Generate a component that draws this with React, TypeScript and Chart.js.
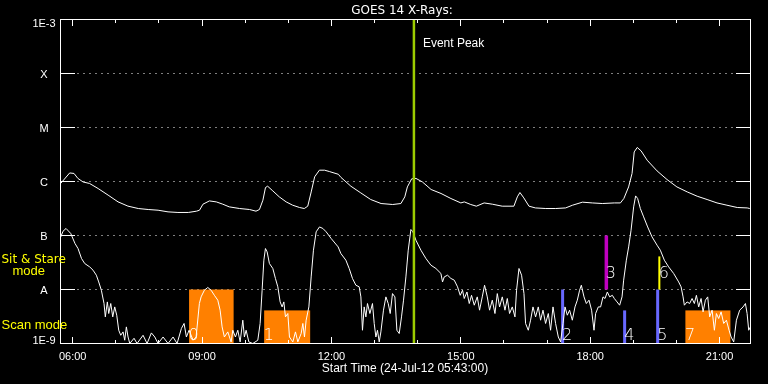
import React, { useEffect, useRef } from 'react';
import { Chart, registerables } from 'chart.js';

Chart.register(...registerables);

// ---- axis ranges / labels ----
const startHour = 5 + 43 / 60; // 05:43
const endHour = startHour + 16; // 21:43
const chartTitle = 'GOES 14 X-Rays:';
const xAxisTitle = 'Start Time (24-Jul-12 05:43:00)';
const xTickHours = [6, 7, 8, 9, 10, 11, 12, 13, 14, 15, 16, 17, 18, 19, 20, 21];
const xMajorHours = [6, 9, 12, 15, 18, 21];
const xMajorLabels = ['06:00', '09:00', '12:00', '15:00', '18:00', '21:00'];
const yTickValues = [1e-9, 1e-8, 1e-7, 1e-6, 1e-5, 1e-4, 1e-3];
const yTickLabels = ['1E-9', 'A', 'B', 'C', 'M', 'X', '1E-3'];

// ---- long channel (upper curve), hours / W m^-2 ----
const longTimes = [
  5.72, 5.93, 6.03, 6.12, 6.24, 6.39, 6.59, 6.82, 7.05, 7.28, 7.52, 7.75, 7.98, 8.21, 8.44, 8.68,
  8.87, 8.94, 9.02, 9.17, 9.33, 9.48, 9.63, 9.87, 10.10, 10.25, 10.33, 10.41, 10.47, 10.52, 10.64,
  10.79, 10.95, 11.10, 11.26, 11.37, 11.45, 11.53, 11.61, 11.72, 11.84, 11.95, 12.16, 12.22, 12.45,
  12.68, 12.91, 13.15, 13.42, 13.61, 13.70, 13.76, 13.86, 13.96, 14.11, 14.31, 14.54, 14.77, 15.00,
  15.08, 15.23, 15.36, 15.54, 15.73, 15.96, 16.23, 16.31, 16.37, 16.46, 16.58, 16.73, 16.97, 17.20,
  17.43, 17.59, 17.82, 18.05, 18.28, 18.56, 18.70, 18.78, 18.89, 18.97, 19.02, 19.09, 19.18, 19.32,
  19.55, 19.78, 20.01, 20.25, 20.48, 20.71, 20.94, 21.17, 21.41, 21.64, 21.70,
];
const longFlux = [
  9.2e-7, 1.44e-6, 1.41e-6, 1.14e-6, 9.8e-7, 9.2e-7, 7.4e-7, 5.6e-7, 4.2e-7, 3.5e-7, 3.16e-7, 3.03e-7,
  2.94e-7, 2.74e-7, 2.67e-7, 2.67e-7, 2.82e-7, 2.94e-7, 3.8e-7, 4.37e-7, 4.19e-7, 3.8e-7, 3.39e-7,
  3.16e-7, 3.03e-7, 2.82e-7, 3.03e-7, 4.5e-7, 7.74e-7, 8.18e-7, 6.7e-7, 5.19e-7, 4.19e-7, 3.64e-7,
  3.3e-7, 3.16e-7, 3.49e-7, 6.41e-7, 1.22e-6, 1.62e-6, 1.62e-6, 1.53e-6, 1.36e-6, 1.19e-6, 8.18e-7,
  6.15e-7, 4.64e-7, 3.91e-7, 3.75e-7, 3.91e-7, 5.19e-7, 7.94e-7, 1.12e-6, 1.14e-6, 9.8e-7, 7.11e-7,
  6.0e-7, 4.84e-7, 4.01e-7, 4.19e-7, 3.75e-7, 3.49e-7, 4.01e-7, 3.8e-7, 3.49e-7, 3.49e-7, 5.19e-7,
  6.25e-7, 4.97e-7, 3.49e-7, 3.24e-7, 3.16e-7, 3.16e-7, 3.24e-7, 3.64e-7, 4.14e-7, 4.01e-7, 3.91e-7,
  4.01e-7, 4.01e-7, 4.84e-7, 7.94e-7, 1.41e-6, 3.53e-6, 4.27e-6, 3.69e-6, 2.48e-6, 1.57e-6, 1.09e-6,
  7.94e-7, 6.41e-7, 5.34e-7, 4.64e-7, 4.01e-7, 3.64e-7, 3.3e-7, 3.24e-7, 3.16e-7,
];

// ---- short channel (lower curve), hours / W m^-2 ----
const shortTimes = [
  5.719, 5.775, 5.845, 5.954, 6.053, 6.123, 6.204, 6.278, 6.394, 6.471, 6.548, 6.603, 6.664, 6.726,
  6.756, 6.803, 6.835, 6.882, 6.928, 6.974, 7.021, 7.067, 7.114, 7.167, 7.206, 7.244, 7.283, 7.323,
  7.422, 7.492, 7.631, 7.724, 7.824, 7.903, 7.979, 8.095, 8.211, 8.327, 8.420, 8.520, 8.582, 8.636,
  8.698, 8.791, 8.861, 8.937, 8.977, 9.053, 9.132, 9.209, 9.285, 9.364, 9.418, 9.464, 9.517, 9.596,
  9.673, 9.712, 9.773, 9.828, 9.882, 9.944, 9.981, 10.021, 10.084, 10.176, 10.292, 10.346, 10.392,
  10.432, 10.469, 10.508, 10.561, 10.640, 10.701, 10.756, 10.810, 10.856, 10.896, 10.933, 10.988,
  11.026, 11.104, 11.165, 11.220, 11.297, 11.336, 11.374, 11.413, 11.476, 11.529, 11.582, 11.645,
  11.722, 11.800, 11.877, 11.993, 12.155, 12.218, 12.334, 12.411, 12.487, 12.566, 12.643, 12.682,
  12.719, 12.759, 12.798, 12.835, 12.891, 12.951, 12.991, 13.030, 13.067, 13.107, 13.146, 13.206,
  13.262, 13.316, 13.362, 13.415, 13.471, 13.517, 13.571, 13.624, 13.671, 13.726, 13.780, 13.842,
  13.889, 13.958, 14.074, 14.190, 14.306, 14.422, 14.538, 14.575, 14.615, 14.691, 14.770, 14.847,
  14.923, 14.986, 15.039, 15.079, 15.142, 15.195, 15.248, 15.311, 15.381, 15.434, 15.497, 15.550,
  15.613, 15.666, 15.729, 15.791, 15.845, 15.898, 15.961, 16.023, 16.077, 16.130, 16.193, 16.255,
  16.292, 16.348, 16.408, 16.464, 16.501, 16.564, 16.617, 16.673, 16.733, 16.796, 16.849, 16.905,
  16.965, 17.028, 17.081, 17.137, 17.197, 17.260, 17.313, 17.369, 17.415, 17.469, 17.522, 17.585,
  17.647, 17.701, 17.754, 17.794, 17.856, 17.910, 17.972, 18.032, 18.088, 18.125, 18.188, 18.241,
  18.297, 18.343, 18.397, 18.450, 18.513, 18.559, 18.622, 18.682, 18.738, 18.775, 18.838, 18.891,
  18.947, 19.007, 19.053, 19.100, 19.162, 19.239, 19.332, 19.434, 19.550, 19.626, 19.719, 19.819,
  19.935, 20.051, 20.107, 20.153, 20.183, 20.246, 20.306, 20.362, 20.415, 20.462, 20.515, 20.571,
  20.617, 20.671, 20.724, 20.770, 20.826, 20.879, 20.926, 20.979, 21.035, 21.095, 21.158, 21.220,
  21.267, 21.327, 21.390, 21.466, 21.545, 21.599, 21.638, 21.675, 21.715,
];
const shortFlux = [
  9.3e-8, 1.2e-7, 1.35e-7, 1.09e-7, 7.1e-8, 5.74e-8, 3.75e-8, 3.03e-8, 2.62e-8, 2.28e-8, 1.84e-8,
  1.38e-8, 9.7e-9, 5.5e-9, 3.11e-9, 5.89e-9, 3.59e-9, 5.5e-9, 3.11e-9, 4.76e-9, 3.34e-9, 1.76e-9,
  1.42e-9, 1.64e-9, 1.15e-9, 2.03e-9, 1.32e-9, 1e-9, 1.25e-9, 1e-9, 1.42e-9, 1e-9, 1.57e-9, 1.32e-9,
  1e-9, 1.32e-9, 1e-9, 1.32e-9, 1e-9, 1.9e-9, 2.35e-9, 1.32e-9, 1.76e-9, 1.15e-9, 1.32e-9, 5.5e-9,
  7.3e-9, 9.7e-9, 1.09e-8, 9.7e-9, 7.8e-9, 6.34e-9, 4.14e-9, 2.03e-9, 1.32e-9, 1.64e-9, 1.07e-9,
  1.76e-9, 1.32e-9, 1.76e-9, 1.07e-9, 2.7e-9, 1.32e-9, 1.76e-9, 1.07e-9, 1e-9, 1.15e-9, 2.35e-9,
  9.7e-9, 3.49e-8, 5.74e-8, 4.97e-8, 3.03e-8, 2.45e-8, 1.6e-8, 1.12e-8, 5.89e-9, 4.76e-9, 5.89e-9,
  3.11e-9, 3.59e-9, 1.32e-9, 1.07e-9, 1.64e-9, 1.07e-9, 1.53e-9, 2.35e-9, 1.32e-9, 2.7e-9, 4.76e-9,
  1.71e-8, 5.34e-8, 1.17e-7, 1.44e-7, 1.35e-7, 1.17e-7, 8.8e-8, 6.15e-8, 4.64e-8, 3.49e-8, 2.45e-8,
  1.6e-8, 1.2e-8, 1.12e-8, 7.3e-9, 1.76e-9, 4.76e-9, 3.11e-9, 5.5e-9, 3.59e-9, 5.5e-9, 2.35e-9,
  1.32e-9, 1.76e-9, 1.07e-9, 1.64e-9, 4.14e-9, 7.3e-9, 5.5e-9, 3.59e-9, 8.4e-9, 7.3e-9, 1.76e-9,
  1.53e-9, 3.11e-9, 6.34e-9, 1.71e-8, 5.34e-8, 1.29e-7, 1.17e-7, 8.18e-8, 5.34e-8, 3.75e-8, 2.82e-8,
  2.45e-8, 1.98e-8, 1.38e-8, 1.71e-8, 1.84e-8, 1.6e-8, 1.49e-8, 1.12e-8, 7.8e-9, 9.7e-9, 6.81e-9,
  9.0e-9, 5.5e-9, 7.8e-9, 5.12e-9, 7.3e-9, 4.14e-9, 7.3e-9, 1.2e-8, 7.3e-9, 4.14e-9, 6.34e-9,
  3.59e-9, 8.4e-9, 4.76e-9, 7.3e-9, 4.14e-9, 6.81e-9, 3.59e-9, 4.76e-9, 3.11e-9, 9.7e-9, 2.45e-8,
  1.84e-8, 8.4e-9, 2.35e-9, 1.76e-9, 2.7e-9, 4.76e-9, 3.11e-9, 4.76e-9, 2.7e-9, 4.14e-9, 2.35e-9,
  3.59e-9, 1.76e-9, 4.76e-9, 2.35e-9, 1.32e-9, 1.07e-9, 2.35e-9, 4.76e-9, 3.34e-9, 4.14e-9, 2.7e-9,
  4.76e-9, 6.34e-9, 9.7e-9, 1.2e-8, 7.3e-9, 5.5e-9, 6.34e-9, 4.14e-9, 1.76e-9, 3.59e-9, 4.76e-9,
  4.76e-9, 7.3e-9, 6.81e-9, 9.0e-9, 7.3e-9, 7.8e-9, 6.81e-9, 5.89e-9, 5.12e-9, 7.3e-9, 1.49e-8,
  3.49e-8, 6.15e-8, 1.25e-7, 3.39e-7, 5.41e-7, 4.84e-7, 3.16e-7, 2.21e-7, 1.44e-7, 9.4e-8, 6.61e-8,
  5.34e-8, 3.49e-8, 2.62e-8, 1.98e-8, 1.38e-8, 1.12e-8, 7.3e-9, 5.12e-9, 5.89e-9, 5.5e-9, 6.81e-9,
  5.5e-9, 7.8e-9, 4.76e-9, 6.81e-9, 3.85e-9, 6.34e-9, 7.3e-9, 3.11e-9, 4.14e-9, 1.76e-9, 3.59e-9,
  2.9e-9, 3.85e-9, 2.35e-9, 2.7e-9, 1.76e-9, 1.32e-9, 1.07e-9, 2.7e-9, 4.14e-9, 4.76e-9, 5.5e-9,
  3.59e-9, 1.76e-9, 2.03e-9,
];

// ---- observation markers ----
const markerNames = ['0', '1', '2', '3', '4', '5', '6', '7'];
const markerStart = [8.698, 10.439, 17.36, 18.374, 18.798, 19.564, 19.603, 20.207];
const markerEnd = [9.731, 11.506, 17.36, 18.374, 18.798, 19.564, 19.603, 21.251];
const markerLow = [1e-9, 1e-9, 1e-9, 1e-8, 1e-9, 1e-9, 1e-8, 1e-9];
const markerHigh = [1e-8, 4.1e-9, 1e-8, 1e-7, 4.1e-9, 1e-8, 4.1e-8, 4.1e-9];
const eventPeakHour = 13.912;
const eventPeakLabel = 'Event Peak';
const modeLabels = ['Sit & Stare', 'mode', 'Scan mode'];

// ---- styles ----
const markerColors = ['#ff8000', '#ff8000', '#6868ff', '#c000c0', '#6868ff', '#6868ff', '#ffff00', '#ff8000'];
const markerLineWidths = [0, 0, 3, 3.5, 3, 3, 2, 0];
const LIB = "'Liberation Sans', Arial, sans-serif";
const NARROW = "'Liberation Sans Narrow', 'Liberation Sans', sans-serif";
const DJV = "'DejaVu Sans', sans-serif";

const goesPlugin = {
  id: 'goesDecor',
  beforeDraw(chart: any) {
    const ctx = chart.ctx;
    ctx.save();
    ctx.fillStyle = '#000';
    ctx.fillRect(0, 0, chart.width, chart.height);
    ctx.restore();
  },
  beforeDatasetsDraw(chart: any) {
    const { ctx, chartArea: a, scales } = chart;
    const x = scales.x;
    const y = scales.y;
    ctx.save();
    ctx.strokeStyle = '#fff';
    ctx.lineWidth = 1;
    // horizontal grid: solid stubs + dotted line
    yTickValues.forEach((v, i) => {
      if (i === 0 || i === yTickValues.length - 1) return;
      const py = Math.round(y.getPixelForValue(v) - 0.5) + 0.5;
      ctx.setLineDash([]);
      ctx.beginPath();
      ctx.moveTo(a.left, py);
      ctx.lineTo(a.left + 14.5, py);
      ctx.moveTo(a.right - 14.5, py);
      ctx.lineTo(a.right, py);
      ctx.stroke();
      ctx.setLineDash([1, 5]);
      ctx.beginPath();
      ctx.moveTo(a.left + 17, py);
      ctx.lineTo(a.right - 16, py);
      ctx.stroke();
    });
    ctx.setLineDash([]);
    // markers
    markerNames.forEach((_, i) => {
      const x0 = x.getPixelForValue(markerStart[i]);
      const x1 = x.getPixelForValue(markerEnd[i]);
      const yTop = y.getPixelForValue(markerHigh[i]);
      const yBot = y.getPixelForValue(markerLow[i]);
      ctx.fillStyle = markerColors[i];
      if (markerLineWidths[i] > 0) {
        const w = markerLineWidths[i];
        ctx.fillRect(x0 - w / 2, yTop, w, yBot - yTop);
      } else {
        ctx.fillRect(x0, yTop, x1 - x0, yBot - yTop);
      }
    });
    ctx.restore();
  },
  afterDatasetsDraw(chart: any) {
    const { ctx, chartArea: a, scales } = chart;
    const x = scales.x;
    const y = scales.y;
    ctx.save();
    // event peak line
    const ex = x.getPixelForValue(eventPeakHour);
    ctx.fillStyle = '#9ccc00';
    ctx.fillRect(ex - 1.25, a.top, 2.5, a.bottom - a.top);
    ctx.fillStyle = '#fff';
    ctx.font = `12px ${LIB}`;
    ctx.textAlign = 'left';
    ctx.textBaseline = 'alphabetic';
    ctx.fillText(eventPeakLabel, ex + 9, 46.5);

    // marker labels
    ctx.font = `200 16px ${DJV}`;
    markerNames.forEach((n, i) => {
      const x0 = x.getPixelForValue(markerStart[i]);
      const yBot = y.getPixelForValue(markerLow[i]);
      const base = markerLow[i] > 1e-9 ? yBot - 11.5 : yBot - 4;
      ctx.fillText(n, x0 - 0.5, base);
    });

    // frame
    ctx.strokeStyle = '#fff';
    ctx.lineWidth = 1;
    ctx.strokeRect(a.left, a.top, a.right - a.left, a.bottom - a.top);

    // x ticks (inward, top & bottom)
    ctx.beginPath();
    xTickHours.forEach((h) => {
      const px = Math.floor(x.getPixelForValue(h)) + 0.5;
      const len = xMajorHours.includes(h) ? 6.5 : 3.5;
      ctx.moveTo(px, a.top);
      ctx.lineTo(px, a.top + len);
      ctx.moveTo(px, a.bottom);
      ctx.lineTo(px, a.bottom - len);
    });
    ctx.stroke();

    // x labels
    ctx.fillStyle = '#fff';
    ctx.font = `11px ${LIB}`;
    ctx.textAlign = 'center';
    xMajorHours.forEach((h, i) => {
      ctx.fillText(xMajorLabels[i], x.getPixelForValue(h), 359.5);
    });
    ctx.font = `12px ${LIB}`;
    ctx.fillText(xAxisTitle, 405, 371.5);

    // y labels
    ctx.font = `11px ${LIB}`;
    yTickValues.forEach((v, i) => {
      const py = y.getPixelForValue(v);
      let base = py + 4.2;
      if (i === yTickValues.length - 1) base = py + 7.5;
      if (i === 0) base = py;
      ctx.fillText(yTickLabels[i], 44, base);
    });

    // title
    ctx.font = `12px ${DJV}`;
    ctx.fillText(chartTitle, 402, 13.5);

    // mode labels
    ctx.fillStyle = '#ffff00';
    ctx.textAlign = 'left';
    ctx.font = `12px ${DJV}`;
    ctx.fillText(modeLabels[0], 1.5, 263);
    ctx.font = `13px ${NARROW}`;
    ctx.fillText(modeLabels[1], 12.5, 275);
    ctx.fillText(modeLabels[2], 1.5, 328.5);
    ctx.restore();
  },
};

export default function App() {
  const ref = useRef<HTMLCanvasElement>(null);
  useEffect(() => {
    document.body.style.margin = '0';
    document.body.style.background = '#000';
    const canvas = ref.current;
    if (!canvas) return;
    const chart = new Chart(canvas, {
      type: 'line',
      data: {
        datasets: [
          {
            label: 'Long',
            data: longTimes.map((t, i) => ({ x: t, y: longFlux[i] })),
            borderColor: '#ffffff',
            borderWidth: 1,
            pointRadius: 0,
            tension: 0,
          },
          {
            label: 'Short',
            data: shortTimes.map((t, i) => ({ x: t, y: shortFlux[i] })),
            borderColor: '#ffffff',
            borderWidth: 1,
            pointRadius: 0,
            tension: 0,
          },
        ],
      },
      options: {
        animation: false,
        responsive: false,
        devicePixelRatio: 1,
        layout: { padding: { left: 60.5, right: 17.5, top: 19.5, bottom: 40.5 } },
        scales: {
          x: { type: 'linear', min: startHour, max: endHour, display: false },
          y: { type: 'logarithmic', min: 1e-9, max: 1e-3, display: false },
        },
        plugins: { legend: { display: false }, tooltip: { enabled: false } },
        events: [],
      },
      plugins: [goesPlugin],
    });
    return () => chart.destroy();
  }, []);
  return <canvas ref={ref} width={768} height={384} style={{ display: 'block', width: 768, height: 384 }} />;
}
